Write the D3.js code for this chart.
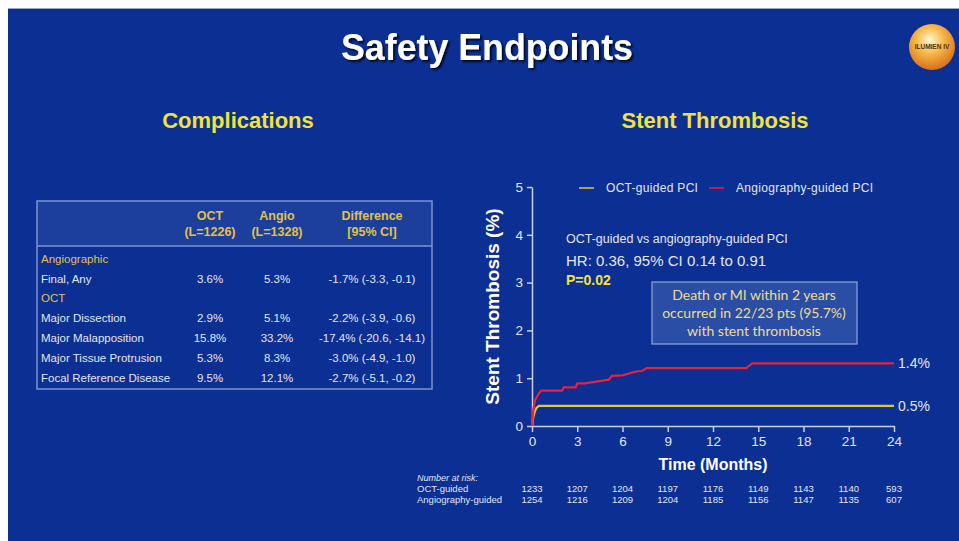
<!DOCTYPE html>
<html>
<head>
<meta charset="utf-8">
<title>Safety Endpoints</title>
<script src="https://d3js.org/d3.v7.min.js"></script>
<style>
  body { margin: 0; background: #fff; }
  svg { display: block; }
</style>
</head>
<body>
<div id="chart"></div>
<script>
// ---- data ----
const tableHeaders = [["OCT", "(L=1226)"], ["Angio", "(L=1328)"], ["Difference", "[95% CI]"]];
const tableRows = [
  {label: "Angiographic", group: true},
  {label: "Final, Any", oct: "3.6%", angio: "5.3%", diff: "-1.7% (-3.3, -0.1)"},
  {label: "OCT", group: true},
  {label: "Major Dissection", oct: "2.9%", angio: "5.1%", diff: "-2.2% (-3.9, -0.6)"},
  {label: "Major Malapposition", oct: "15.8%", angio: "33.2%", diff: "-17.4% (-20.6, -14.1)"},
  {label: "Major Tissue Protrusion", oct: "5.3%", angio: "8.3%", diff: "-3.0% (-4.9, -1.0)"},
  {label: "Focal Reference Disease", oct: "9.5%", angio: "12.1%", diff: "-2.7% (-5.1, -0.2)"}
];

const monthTicks = [0, 3, 6, 9, 12, 15, 18, 21, 24];
const pctTicks = [0, 1, 2, 3, 4, 5];

// Kaplan-Meier curves: [month, %]
const octCurve = [[0, 0], [0.08, 0.18], [0.18, 0.3], [0.3, 0.38], [0.45, 0.42], [24, 0.42]];
const angioCurve = [[0, 0], [0.08, 0.33], [0.2, 0.54], [0.4, 0.65], [0.6, 0.74], [2.0, 0.74],
  [2.1, 0.81], [2.9, 0.81], [3.0, 0.89], [3.5, 0.89], [5.1, 0.97], [5.3, 1.05], [6.0, 1.06],
  [6.9, 1.14], [7.3, 1.15], [7.6, 1.21], [14.2, 1.21], [14.6, 1.31], [24, 1.31]];
const endLabels = ["0.5%", "1.4%"];

const riskOct = [1233, 1207, 1204, 1197, 1176, 1149, 1143, 1140, 593];
const riskAngio = [1254, 1216, 1209, 1204, 1185, 1156, 1147, 1135, 607];

// ---- page ----
const W = 959, H = 541;
const BG = "#0b2f93", YEL = "#f3e23a", GOLD = "#e2c14a", AX = "#c9d0e6", TXT = "#e3e6ef";
const SANS = "'Liberation Sans', Arial, sans-serif";

const svg = d3.select("#chart").append("svg").attr("width", W).attr("height", H);

const defs = svg.append("defs");
const sh = defs.append("filter").attr("id", "shadow").attr("x", "-10%").attr("y", "-10%").attr("width", "130%").attr("height", "140%");
sh.append("feDropShadow").attr("dx", 2).attr("dy", 2).attr("stdDeviation", 0.8).attr("flood-color", "#000").attr("flood-opacity", 0.8);
const lg = defs.append("radialGradient").attr("id", "logo").attr("cx", "45%").attr("cy", "35%").attr("r", "65%");
lg.append("stop").attr("offset", "0%").attr("stop-color", "#fff8d8");
lg.append("stop").attr("offset", "45%").attr("stop-color", "#f7b948");
lg.append("stop").attr("offset", "100%").attr("stop-color", "#d7701c");

svg.append("rect").attr("x", 8).attr("y", 9).attr("width", W - 8).attr("height", H - 9).attr("fill", BG);
svg.append("line").attr("x1", 8).attr("x2", W).attr("y1", 8.5).attr("y2", 8.5).attr("stroke", "#9aa6c8");

// title: narrow bold face squeezed to the width seen in the picture
svg.append("text").attr("x", 487).attr("y", 60).attr("text-anchor", "middle")
  .attr("font-family", "'Liberation Sans Narrow', 'Liberation Sans', Arial, sans-serif")
  .attr("font-weight", "bold").attr("font-size", 36)
  .attr("fill", "#fff").attr("filter", "url(#shadow)")
  .attr("textLength", 292).attr("lengthAdjust", "spacingAndGlyphs")
  .text("Safety Endpoints");

// logo
svg.append("circle").attr("cx", 932).attr("cy", 47).attr("r", 23).attr("fill", "url(#logo)");
svg.append("text").attr("x", 932).attr("y", 49).attr("text-anchor", "middle")
  .attr("font-family", SANS).attr("font-weight", "bold").attr("font-size", 6.5)
  .attr("fill", "#5a2a10").text("ILUMIEN IV");

// section titles
svg.append("text").attr("x", 238).attr("y", 128).attr("text-anchor", "middle")
  .attr("font-family", SANS).attr("font-weight", "bold").attr("font-size", 22).attr("fill", YEL).text("Complications");
svg.append("text").attr("x", 715).attr("y", 128).attr("text-anchor", "middle")
  .attr("font-family", SANS).attr("font-weight", "bold").attr("font-size", 22).attr("fill", YEL).text("Stent Thrombosis");

// ---- table ----
const tbl = svg.append("g");
tbl.append("rect").attr("x", 37).attr("y", 201).attr("width", 395).attr("height", 45)
  .attr("fill", "#1c3f9c");
tbl.append("rect").attr("x", 37).attr("y", 201).attr("width", 395).attr("height", 188)
  .attr("fill", "none").attr("stroke", "#7e93cf").attr("stroke-width", 1.5);
tbl.append("line").attr("x1", 37).attr("x2", 432).attr("y1", 246).attr("y2", 246)
  .attr("stroke", "#7e93cf").attr("stroke-width", 1.5);

const colX = [210, 277, 372];
tableHeaders.forEach((h, i) => {
  h.forEach((t, j) => {
    tbl.append("text").attr("x", colX[i]).attr("y", 220 + j * 16).attr("text-anchor", "middle")
      .attr("font-family", SANS).attr("font-weight", "bold").attr("font-size", 12.5)
      .attr("fill", GOLD).text(t);
  });
});
const rowY = [263, 283, 302, 322, 342, 362, 382];
tableRows.forEach((r, i) => {
  tbl.append("text").attr("x", 41).attr("y", rowY[i]).attr("font-family", SANS).attr("font-size", 11.5)
    .attr("fill", r.group ? GOLD : TXT).text(r.label);
  if (!r.group) {
    [r.oct, r.angio, r.diff].forEach((v, k) => {
      tbl.append("text").attr("x", colX[k]).attr("y", rowY[i]).attr("text-anchor", "middle")
        .attr("font-family", SANS).attr("font-size", 11.5).attr("fill", TXT).text(v);
    });
  }
});

// ---- KM chart ----
const x = d3.scaleLinear().domain([0, 24]).range([532, 894]);
const y = d3.scaleLinear().domain([0, 5]).range([426, 187]);

const xAxis = svg.append("g").attr("transform", "translate(0," + y(0) + ")")
  .call(d3.axisBottom(x).tickValues(monthTicks).tickFormat(d3.format("d"))
    .tickSize(6).tickSizeOuter(0).tickPadding(4));
const yAxis = svg.append("g").attr("transform", "translate(" + x(0) + ",0)")
  .call(d3.axisLeft(y).tickValues(pctTicks).tickFormat(d3.format("d"))
    .tickSize(5).tickSizeOuter(0).tickPadding(4));
[xAxis, yAxis].forEach(a => {
  a.selectAll("path, line").attr("stroke", AX).attr("stroke-width", 1.5);
  a.selectAll("text").attr("fill", TXT).attr("font-family", SANS).attr("font-size", 13.5);
});

svg.append("text").attr("transform", "translate(499," + y(2.5) + ") rotate(-90)")
  .attr("text-anchor", "middle").attr("font-family", SANS).attr("font-weight", "bold")
  .attr("font-size", 19).attr("fill", "#fff").text("Stent Thrombosis (%)");
svg.append("text").attr("x", x(12)).attr("y", 470).attr("text-anchor", "middle")
  .attr("font-family", SANS).attr("font-weight", "bold").attr("font-size", 16)
  .attr("fill", "#fff").text("Time (Months)");

const line = d3.line().x(d => x(d[0])).y(d => y(d[1]));
svg.append("path").datum(octCurve).attr("d", line).attr("fill", "none")
  .attr("stroke", "#e8c23a").attr("stroke-width", 2.2);
svg.append("path").datum(angioCurve).attr("d", line).attr("fill", "none")
  .attr("stroke", "#e8213f").attr("stroke-width", 2.2);

svg.append("text").attr("x", x(24) + 4).attr("y", y(0.42) + 5).attr("font-family", SANS)
  .attr("font-size", 14).attr("fill", TXT).text(endLabels[0]);
svg.append("text").attr("x", x(24) + 4).attr("y", y(1.31) + 5).attr("font-family", SANS)
  .attr("font-size", 14).attr("fill", TXT).text(endLabels[1]);

// legend
const leg = [{name: "OCT-guided PCI", c: "#e8c23a", x0: 579}, {name: "Angiography-guided PCI", c: "#e8213f", x0: 709}];
leg.forEach(l => {
  svg.append("line").attr("x1", l.x0).attr("x2", l.x0 + 15).attr("y1", 188).attr("y2", 188)
    .attr("stroke", l.c).attr("stroke-width", 1.5);
  svg.append("text").attr("x", l.x0 + 27).attr("y", 192).attr("font-family", SANS)
    .attr("font-size", 12).attr("fill", TXT).attr("letter-spacing", 0.3).text(l.name);
});

// stats
svg.append("text").attr("x", 566).attr("y", 243).attr("font-family", SANS).attr("font-size", 12.5)
  .attr("fill", TXT).text("OCT-guided vs angiography-guided PCI");
svg.append("text").attr("x", 566).attr("y", 266).attr("font-family", SANS).attr("font-size", 15)
  .attr("fill", TXT).text("HR: 0.36, 95% CI 0.14 to 0.91");
svg.append("text").attr("x", 566).attr("y", 285).attr("font-family", SANS).attr("font-size", 14)
  .attr("font-weight", "bold").attr("fill", YEL).text("P=0.02");

// callout box
svg.append("rect").attr("x", 652).attr("y", 282).attr("width", 205).attr("height", 62)
  .attr("fill", "#2a4ea6").attr("stroke", "#93a6d6").attr("stroke-width", 1.2);
["Death or MI within 2 years", "occurred in 22/23 pts (95.7%)", "with stent thrombosis"].forEach((t, i) => {
  svg.append("text").attr("x", 754).attr("y", 300 + i * 18).attr("text-anchor", "middle")
    .attr("font-family", "Lato, 'Open Sans', sans-serif").attr("font-size", 14).attr("fill", "#f0dc8e").text(t);
});

// number at risk
svg.append("text").attr("x", 417).attr("y", 481).attr("font-family", SANS).attr("font-size", 9)
  .attr("font-style", "italic").attr("fill", TXT).text("Number at risk:");
[["OCT-guided", riskOct, 492], ["Angiography-guided", riskAngio, 503]].forEach(r => {
  svg.append("text").attr("x", 417).attr("y", r[2]).attr("font-family", SANS).attr("font-size", 9.5)
    .attr("fill", TXT).text(r[0]);
  svg.selectAll(null).data(r[1]).enter().append("text")
    .attr("x", (d, i) => x(monthTicks[i]))
    .attr("y", r[2]).attr("text-anchor", "middle").attr("font-family", SANS).attr("font-size", 9.5)
    .attr("fill", TXT).text(d => d);
});
</script>
</body>
</html>
